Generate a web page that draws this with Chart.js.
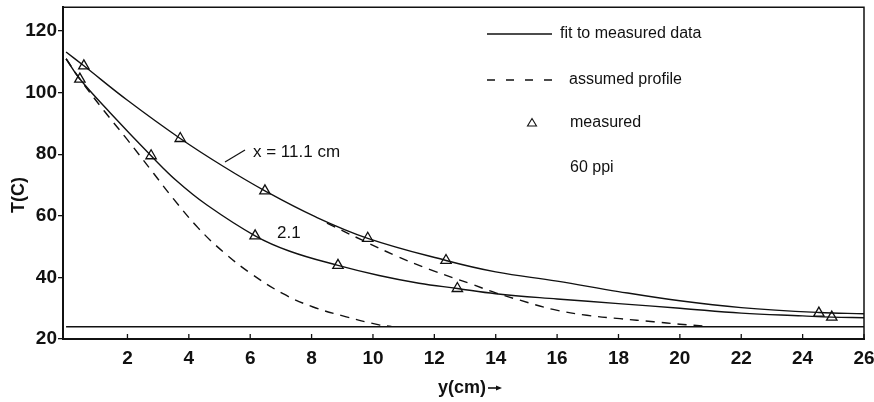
<!DOCTYPE html>
<html>
<head>
<meta charset="utf-8">
<script src="https://cdn.jsdelivr.net/npm/chart.js@4.4.0/dist/chart.umd.min.js"></script>
<style>
  html, body { margin: 0; padding: 0; background: #fff; }
  canvas { display: block; }
</style>
</head>
<body>
<canvas id="chart" width="874" height="402"></canvas>
<script>
// fit to measured data, x = 11.1 cm
const upperFitX = [0, 0.58, 2.0, 3.72, 5.13, 6.48, 8.1, 9.83, 12.38, 14, 16, 18, 20, 22, 24.53, 26];
const upperFitT = [113.2, 108.7, 97.5, 85.1, 76.0, 68.1, 59.8, 52.7, 45.5, 41.8, 38.8, 35.4, 32.4, 30.2, 28.6, 28.2];

// fit to measured data, x = 2.1 cm
const lowerFitX = [0, 0.45, 1.45, 2.77, 3.61, 4.59, 6.16, 7.29, 8.86, 10.2, 11.5, 12.75, 14, 16, 18, 20, 22, 24, 24.95, 26];
const lowerFitT = [111, 104.4, 93.3, 79.5, 71.3, 63.5, 53.5, 48.5, 43.9, 40.6, 38.1, 36.4, 34.7, 33.0, 31.5, 30.0, 28.4, 27.5, 27.1, 26.9];

// assumed profiles
const upperAssumedX = [8.5, 9.67, 10.75, 11.84, 13.16, 14.0, 14.79, 15.87, 16.97, 18.05, 19.14, 20.0, 20.8];
const upperAssumedT = [57.6, 52.0, 47.0, 42.6, 38.0, 35.0, 32.6, 29.6, 27.7, 26.6, 25.6, 24.8, 24.2];
const lowerAssumedX = [0, 0.45, 1.23, 1.99, 2.85, 3.5, 4.31, 5.13, 5.99, 7.07, 8.05, 9.13, 10.2, 10.6];
const lowerAssumedT = [111, 104.4, 94.2, 84.8, 73.8, 65.5, 56.0, 48.2, 41.5, 34.7, 30.4, 27.2, 24.6, 24.1];

// measured points
const upperMeasX = [0.58, 3.72, 6.48, 9.83, 12.38, 24.53];
const upperMeasT = [108.7, 85.1, 68.1, 52.7, 45.5, 28.4];
const lowerMeasX = [0.45, 2.77, 6.16, 8.86, 12.75, 24.95];
const lowerMeasT = [104.4, 79.5, 53.5, 43.9, 36.4, 27.1];

// ambient level
const baseX = [0, 26];
const baseT = [24, 24];

const xTicks = [2, 4, 6, 8, 10, 12, 14, 16, 18, 20, 22, 24, 26];
const yTicks = [20, 40, 60, 80, 100, 120];

const FONT = "'Liberation Sans', Arial, sans-serif";
const INK = '#111';

function pts(xs, ys) {
  return xs.map((x, i) => ({ x: x, y: ys[i] }));
}

function curve(xs, ys, dashed) {
  return {
    data: pts(xs, ys),
    showLine: true,
    borderColor: INK,
    borderWidth: 1.4,
    borderDash: dashed ? [9, 7] : [],
    pointRadius: 0,
    tension: 0.4,
    fill: false
  };
}

function measured(xs, ys) {
  return {
    data: pts(xs, ys),
    showLine: false,
    pointStyle: 'triangle',
    pointRadius: 6,
    pointBackgroundColor: '#fff',
    pointBorderColor: INK,
    pointBorderWidth: 1.3
  };
}

// frame, inward x ticks, legend and labels
const notes = {
  id: 'notes',
  afterDraw(chart) {
    const ctx = chart.ctx;
    const a = chart.chartArea;
    const xs = chart.scales.x;
    ctx.save();
    ctx.strokeStyle = INK;
    ctx.fillStyle = INK;

    // top and right edges of the box
    ctx.lineWidth = 1.5;
    ctx.beginPath();
    ctx.moveTo(a.left, a.top);
    ctx.lineTo(a.right, a.top);
    ctx.lineTo(a.right, a.bottom);
    ctx.stroke();

    // x ticks point into the plot
    ctx.lineWidth = 1.3;
    xTicks.forEach(v => {
      const px = xs.getPixelForValue(v);
      ctx.beginPath();
      ctx.moveTo(px, a.bottom);
      ctx.lineTo(px, a.bottom - 5);
      ctx.stroke();
    });

    // legend
    ctx.lineWidth = 1.4;
    ctx.beginPath();
    ctx.moveTo(487, 34);
    ctx.lineTo(552, 34);
    ctx.stroke();
    ctx.setLineDash([8, 11]);
    ctx.beginPath();
    ctx.moveTo(487, 80);
    ctx.lineTo(552, 80);
    ctx.stroke();
    ctx.setLineDash([]);
    ctx.lineWidth = 1.1;
    ctx.beginPath();
    ctx.moveTo(532, 118.5);
    ctx.lineTo(536.5, 126);
    ctx.lineTo(527.5, 126);
    ctx.closePath();
    ctx.stroke();

    ctx.font = '16px ' + FONT;
    ctx.textBaseline = 'middle';
    ctx.textAlign = 'left';
    ctx.fillText('fit to measured data', 560, 34);
    ctx.fillText('assumed profile', 569, 80);
    ctx.fillText('measured', 570, 123);
    ctx.fillText('60 ppi', 570, 168);

    // curve labels
    ctx.font = '17px ' + FONT;
    ctx.fillText('x = 11.1 cm', 253, 152);
    ctx.fillText('2.1', 277, 233);
    ctx.lineWidth = 1.2;
    ctx.beginPath();
    ctx.moveTo(225, 162);
    ctx.lineTo(245, 150);
    ctx.stroke();

    // axis titles
    ctx.font = 'bold 18px ' + FONT;
    ctx.textAlign = 'right';
    ctx.fillText('y(cm)', 486, 388);
    ctx.lineWidth = 1.6;
    ctx.beginPath();
    ctx.moveTo(488, 388);
    ctx.lineTo(498, 388);
    ctx.stroke();
    ctx.beginPath();
    ctx.moveTo(502, 388);
    ctx.lineTo(496, 385.5);
    ctx.lineTo(496, 390.5);
    ctx.closePath();
    ctx.fill();

    ctx.textAlign = 'center';
    ctx.translate(19, 195);
    ctx.rotate(-Math.PI / 2);
    ctx.fillText('T(C)', 0, 0);
    ctx.restore();
  }
};

new Chart(document.getElementById('chart').getContext('2d'), {
  type: 'scatter',
  data: {
    datasets: [
      curve(upperFitX, upperFitT, false),
      curve(lowerFitX, lowerFitT, false),
      curve(upperAssumedX, upperAssumedT, true),
      curve(lowerAssumedX, lowerAssumedT, true),
      curve(baseX, baseT, false),
      measured(upperMeasX, upperMeasT),
      measured(lowerMeasX, lowerMeasT)
    ]
  },
  options: {
    responsive: false,
    animation: false,
    layout: { padding: { top: 1, right: 10, left: 0, bottom: 0 } },
    plugins: {
      legend: { display: false },
      tooltip: { enabled: false }
    },
    scales: {
      x: {
        type: 'linear',
        min: -0.1,
        max: 26,
        afterBuildTicks: s => { s.ticks = xTicks.map(v => ({ value: v })); },
        afterFit: s => { s.height = 63; s.paddingLeft = 0; s.paddingRight = 0; },
        border: { display: true, color: INK, width: 2 },
        grid: { display: false },
        ticks: {
          color: INK,
          padding: 0,
          maxRotation: 0,
          font: { family: FONT, size: 19, weight: 'bold' }
        }
      },
      y: {
        type: 'linear',
        min: 20,
        max: 127.7,
        afterBuildTicks: s => { s.ticks = yTicks.map(v => ({ value: v })); },
        afterFit: s => { s.width = 63; s.paddingTop = 0; s.paddingBottom = 0; },
        border: { display: true, color: INK, width: 2 },
        grid: { drawOnChartArea: false, drawTicks: true, tickLength: 5, color: INK, lineWidth: 1.3 },
        ticks: {
          color: INK,
          padding: 1,
          font: { family: FONT, size: 19, weight: 'bold' }
        }
      }
    }
  },
  plugins: [notes]
});
</script>
</body>
</html>
